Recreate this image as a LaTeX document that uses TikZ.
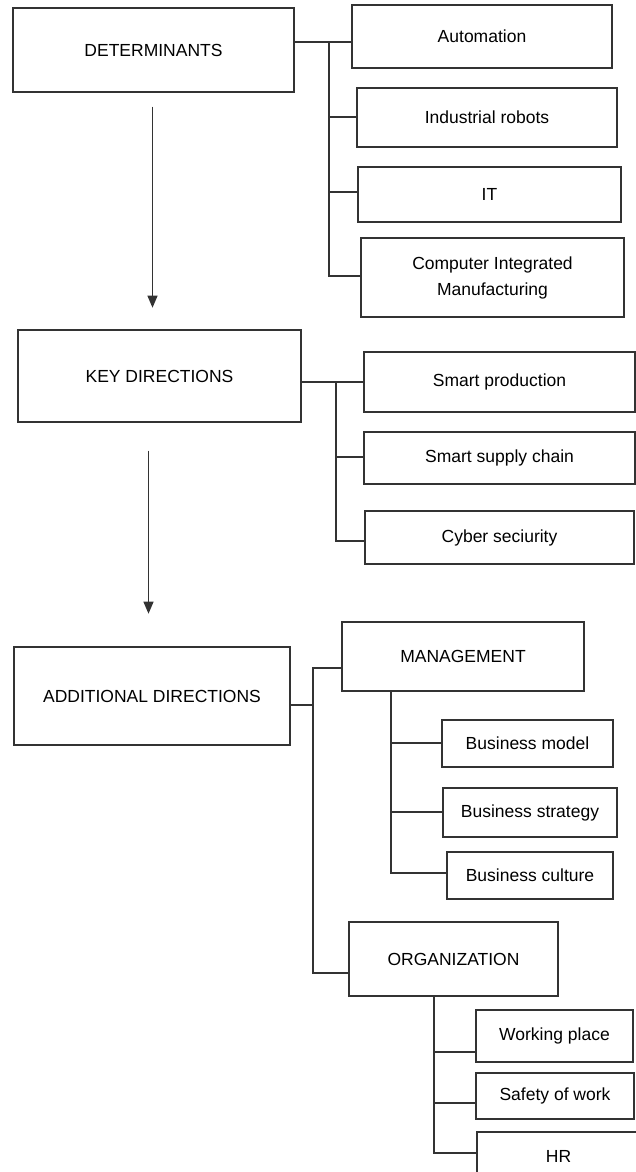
\documentclass[tikz,border=0pt]{standalone}
\usepackage{fontspec}
\setmainfont{Liberation Sans}
\usetikzlibrary{arrows.meta}

\begin{document}
\begin{tikzpicture}[x=1pt,y=-1pt,
		box/.style={draw=black!80, line width=1.4pt, inner sep=0pt, align=center,
			font=\fontsize{17.5}{26}\selectfont},
		link/.style={draw=black!80, line width=1.4pt},
		flow/.style={draw=black!80, line width=1.2pt, -{Triangle[width=10pt,length=12pt]}}]
		%%%%% START %%%%%
		\path[use as bounding box, clip] (0,0) rectangle (636,1172);
		
		%% determinants
		\node[box, minimum width=281, minimum height=84] (det) at (153.5,50) {DETERMINANTS};
		\node[box, minimum width=260, minimum height=63] (auto) at (482,36.5) {Automation};
		\node[box, minimum width=260, minimum height=59] (robots) at (487,117.5) {Industrial robots};
		\node[box, minimum width=263, minimum height=55] (it) at (489.5,194.5) {IT};
		\node[box, minimum width=263, minimum height=79] (cim) at (492.5,277.5) {Computer Integrated\\Manufacturing};
		
		\coordinate (detbus) at (329,42);
		\draw[link] (det.east |- detbus) -- (auto.west |- detbus);
		\draw[link] (detbus) |- (cim.west |- 0,276);
		\draw[link] (detbus |- 0,117) -- (robots.west |- 0,117);
		\draw[link] (detbus |- 0,192) -- (it.west |- 0,192);
		
		\draw[flow] ([xshift=-1pt,yshift=-14pt]det.south) -- ++(0,201);
		
		%% key directions
		\node[box, minimum width=283, minimum height=92] (key) at (159.5,376) {KEY DIRECTIONS};
		\node[box, minimum width=271, minimum height=60] (prod) at (499.5,382) {Smart production};
		\node[box, minimum width=271, minimum height=52] (supply) at (499.5,458) {Smart supply chain};
		\node[box, minimum width=269, minimum height=53] (cyber) at (499.5,537.5) {Cyber seciurity};
		
		\coordinate (keybus) at (336,382);
		\draw[link] (key.east |- keybus) -- (prod.west);
		\draw[link] (keybus) |- (cyber.west |- 0,541);
		\draw[link] (keybus |- 0,457) -- (supply.west |- 0,457);
		
		\draw[flow] ([xshift=-11pt,yshift=-28pt]key.south) -- ++(0,163);
		
		%% additional directions
		\node[box, minimum width=276, minimum height=98] (add) at (152,696) {ADDITIONAL DIRECTIONS};
		\node[box, minimum width=242, minimum height=69] (mgmt) at (463,656.5) {MANAGEMENT};
		\node[box, minimum width=209, minimum height=74] (org) at (453.5,959) {ORGANIZATION};
		
		\coordinate (addtop) at (313,668);
		\coordinate (addbot) at (313,973);
		\draw[link] (mgmt.west |- addtop) -- (addtop) -- (addbot) -- (org.west |- addbot);
		\draw[link] (add.east |- 0,705) -- (addtop |- 0,705);
		
		%% management
		\node[box, minimum width=171, minimum height=47] (bm) at (527.5,743.5) {Business model};
		\node[box, minimum width=174, minimum height=49] (bs) at (530,812.5) {Business strategy};
		\node[box, minimum width=166, minimum height=47] (bc) at (530,875.5) {Business culture};
		
		\coordinate (mgmtbus) at (391,691);
		\draw[link] (mgmtbus) |- (bc.west |- 0,873);
		\draw[link] (mgmtbus |- 0,743) -- (bm.west |- 0,743);
		\draw[link] (mgmtbus |- 0,812) -- (bs.west |- 0,812);
		
		%% organization
		\node[box, minimum width=157, minimum height=52] (wp) at (554.5,1036) {Working place};
		\node[box, minimum width=158, minimum height=46] (sow) at (555,1096) {Safety of work};
		\node[box, minimum width=163, minimum height=48] (hr) at (558.5,1156) {HR};
		
		\coordinate (orgbus) at (434,996);
		\draw[link] (orgbus) |- (hr.west |- 0,1153);
		\draw[link] (orgbus |- 0,1052) -- (wp.west |- 0,1052);
		\draw[link] (orgbus |- 0,1103) -- (sow.west |- 0,1103);
		%%%%% END %%%%%
	\end{tikzpicture}
\end{document}
